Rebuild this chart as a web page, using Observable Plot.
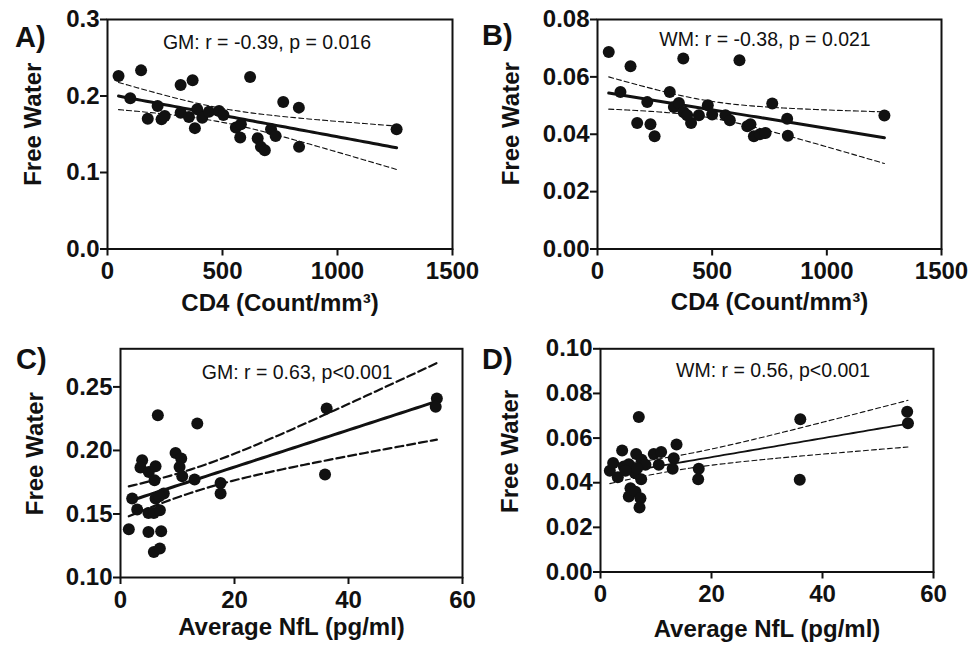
<!DOCTYPE html>
<html>
<head>
<meta charset="utf-8">
<script src="https://cdn.jsdelivr.net/npm/d3@7"></script>
<script src="https://cdn.jsdelivr.net/npm/@observablehq/plot@0.6"></script>
<style>
  html, body { margin: 0; padding: 0; background: white; }
  #root { position: relative; width: 974px; height: 646px; background: white; overflow: hidden; }
  .panel { position: absolute; }
  .letter { position: absolute; font: bold 29px 'Liberation Sans', Arial, sans-serif; line-height: 1; color: #111; }
</style>
</head>
<body>
<div id="root"></div>
<script>
// ---- Data ----
// A) GM free water vs CD4
const cd4A = [48,146,99,318,370,620,764,832,1257,218,175,235,249,318,354,380,390,412,441,485,504,558,580,577,653,667,684,711,731,833];
const fwA  = [0.226,0.2335,0.197,0.2144,0.2205,0.2248,0.1922,0.1848,0.1566,0.187,0.1704,0.1696,0.174,0.1782,0.1726,0.158,0.1826,0.1717,0.1795,0.1805,0.1752,0.1587,0.1631,0.1456,0.1448,0.1335,0.129,0.1566,0.1478,0.1335];
// B) WM free water vs CD4
const cd4B = [49,144,100,374,619,217,173,231,249,315,333,355,376,408,391,442,481,500,558,577,653,667,682,708,733,762,827,830,1251];
const fwB  = [0.0687,0.0637,0.0547,0.0664,0.0658,0.0512,0.0439,0.0435,0.0393,0.0547,0.0495,0.0509,0.0477,0.0439,0.0466,0.0466,0.0501,0.0469,0.0466,0.0449,0.0428,0.0435,0.0393,0.0400,0.0404,0.0507,0.0454,0.0395,0.0465];
// C) GM free water vs NfL
const nflC = [1.46,2.05,2.93,3.8,3.5,4.97,6.15,5.97,6.55,4.9,5.85,4.9,5.85,6.9,7.14,6.9,6.15,7.6,6.8,9.66,10.65,10.36,10.83,13.0,13.47,17.56,17.56,36.17,35.88,55.5,55.3];
const fwC  = [0.138,0.1622,0.1535,0.1923,0.1866,0.1831,0.1876,0.1766,0.2277,0.1508,0.1508,0.1359,0.120,0.1228,0.1364,0.153,0.1622,0.1661,0.164,0.198,0.1936,0.187,0.1797,0.1771,0.2212,0.1744,0.1661,0.233,0.181,0.2409,0.2343];
// D) WM free water vs NfL
const nflD = [1.68,2.28,3.12,3.9,4.2,5.1,5.4,5.1,6.3,6.9,6.43,6.2,7.2,7.03,7.33,7.4,8.1,6.6,4.5,9.6,10.93,10.5,13.7,13.2,13.0,17.7,17.6,36.0,35.9,55.26,55.4];
const fwD  = [0.0454,0.0488,0.0425,0.0544,0.0473,0.0483,0.0375,0.0338,0.036,0.0694,0.0529,0.0443,0.033,0.0289,0.0416,0.0503,0.0481,0.0465,0.0454,0.0529,0.0538,0.0481,0.0571,0.051,0.0463,0.0463,0.0416,0.0684,0.0413,0.0718,0.0666];

const annotA = "GM: r = -0.39, p = 0.016";
const annotB = "WM: r = -0.38, p = 0.021";
const annotC = "GM: r = 0.63, p<0.001";
const annotD = "WM: r = 0.56, p<0.001";

const ticksCD4 = [0, 500, 1000, 1500];
const ticksNfL = [0, 20, 40, 60];
const ticksYA = [0, 0.1, 0.2, 0.3];
const ticksYB = [0, 0.02, 0.04, 0.06, 0.08];
const ticksYC = [0.10, 0.15, 0.20, 0.25];
const ticksYD = [0, 0.02, 0.04, 0.06, 0.08, 0.10];

const yTitle = "Free Water";
const xTitleCD4 = "CD4 (Count/mm³)";
const xTitleNfL = "Average NfL (pg/ml)";

// ---- linear regression with 95% CI of the mean ----
function tq975(df) {
  const z = 1.959964;
  return z + (z**3 + z) / (4*df) + (5*z**5 + 16*z**3 + 3*z) / (96*df*df) + (3*z**7 + 19*z**5 + 17*z**3 - 15*z) / (384*df**3);
}
function fit(xs, ys) {
  const n = xs.length;
  const mx = d3.mean(xs), my = d3.mean(ys);
  let sxx = 0, sxy = 0;
  for (let i = 0; i < n; i++) { sxx += (xs[i]-mx)**2; sxy += (xs[i]-mx)*(ys[i]-my); }
  const b = sxy / sxx, a = my - b*mx;
  let sse = 0;
  for (let i = 0; i < n; i++) sse += (ys[i] - a - b*xs[i])**2;
  const s = Math.sqrt(sse / (n-2)), t = tq975(n-2);
  const [x0, x1] = d3.extent(xs);
  return d3.range(0, 61).map(i => {
    const x = x0 + (x1-x0)*i/60;
    const yh = a + b*x;
    const se = s * Math.sqrt(1/n + (x-mx)**2/sxx);
    return {x, y: yh, lo: yh - t*se, hi: yh + t*se};
  });
}

const FONT = "'Liberation Sans', Arial, Helvetica, sans-serif";

function panel(cfg) {
  const pts = cfg.xs.map((x, i) => ({x, y: cfg.ys[i]}));
  const f = fit(cfg.xs, cfg.ys);
  const plot = Plot.plot({
    width: cfg.width, height: cfg.height,
    marginLeft: cfg.ml, marginRight: cfg.mr, marginTop: cfg.mt, marginBottom: cfg.mb,
    style: {fontFamily: FONT, fontWeight: "bold", fontSize: "24px", background: "transparent", overflow: "visible", color: "#111"},
    x: {domain: cfg.xdomain},
    y: {domain: cfg.ydomain},
    marks: [
      Plot.axisX({ticks: cfg.xticks, tickFormat: d3.format("d"), tickSize: 7, tickPadding: 6, strokeWidth: 2, fontSize: 24, fontWeight: "bold", fill: "#111", label: null}),
      Plot.axisY({ticks: cfg.yticks, tickFormat: d3.format(cfg.yfmt), tickSize: 7, tickPadding: 1, strokeWidth: 2, fontSize: 24, fontWeight: "bold", fill: "#111", label: null}),
      Plot.line(f, {x: "x", y: "hi", stroke: "#111", strokeWidth: cfg.dashW, strokeDasharray: cfg.dash}),
      Plot.line(f, {x: "x", y: "lo", stroke: "#111", strokeWidth: cfg.dashW, strokeDasharray: cfg.dash}),
      Plot.line(f, {x: "x", y: "y", stroke: "#111", strokeWidth: cfg.lineW}),
      Plot.dot(pts, {x: "x", y: "y", r: 6, fill: "#111", stroke: "none"}),
      Plot.frame({stroke: "#111", strokeWidth: 2}),
      Plot.text([cfg.annot], {frameAnchor: "top", text: d => d, lineAnchor: "bottom", textAnchor: "middle", dx: cfg.adx, dy: cfg.ady, fontSize: 19.5, fontWeight: "normal", fill: "#111"}),
      Plot.text([cfg.xtitle], {frameAnchor: "bottom", text: d => d, lineAnchor: "bottom", textAnchor: "middle", dx: cfg.xtdx, dy: cfg.xtdy, fontSize: 24, fontWeight: "bold", fill: "#111"}),
      Plot.text([yTitle], {frameAnchor: "left", text: d => d, rotate: -90, lineAnchor: "bottom", textAnchor: "middle", dx: cfg.ytdx, dy: cfg.ytdy, fontSize: 24, fontWeight: "bold", fill: "#111"})
    ]
  });
  plot.classList.add("panel");
  plot.style.left = cfg.left + "px";
  plot.style.top = cfg.top + "px";
  return plot;
}

const root = document.getElementById("root");

root.appendChild(panel({
  left: 0, top: 0, width: 487, height: 320, ml: 107, mr: 35, mt: 19, mb: 71.5,
  xs: cd4A, ys: fwA, xdomain: [0, 1500], ydomain: [0, 0.3], xticks: ticksCD4, yticks: ticksYA, yfmt: ".1f",
  lineW: 3, dashW: 1.1, dash: "5,3", annot: annotA, adx: -13, ady: 29,
  xtitle: xTitleCD4, xtdx: 0, xtdy: 61.5, ytdx: -66.5, ytdy: -10
}));
root.appendChild(panel({
  left: 487, top: 0, width: 487, height: 320, ml: 110, mr: 33, mt: 19, mb: 71.5,
  xs: cd4B, ys: fwB, xdomain: [0, 1500], ydomain: [0, 0.08], xticks: ticksCD4, yticks: ticksYB, yfmt: ".2f",
  lineW: 3, dashW: 1.1, dash: "5,3", annot: annotB, adx: -4.5, ady: 26,
  xtitle: xTitleCD4, xtdx: 0, xtdy: 60.5, ytdx: -79, ytdy: -10.5
}));
root.appendChild(panel({
  left: 0, top: 320, width: 487, height: 326, ml: 120, mr: 25, mt: 28.3, mb: 69,
  xs: nflC, ys: fwC, xdomain: [0, 60], ydomain: [0.10, 0.28], xticks: ticksNfL, yticks: ticksYC, yfmt: ".2f",
  lineW: 3, dashW: 2.2, dash: "8,4", annot: annotC, adx: 5.7, ady: 30,
  xtitle: xTitleNfL, xtdx: 0, xtdy: 57, ytdx: -78, ytdy: -9.5
}));
root.appendChild(panel({
  left: 487, top: 320, width: 487, height: 326, ml: 113, mr: 41, mt: 28.3, mb: 74.5,
  xs: nflD, ys: fwD, xdomain: [0, 60], ydomain: [0, 0.10], xticks: ticksNfL, yticks: ticksYD, yfmt: ".2f",
  lineW: 1.8, dashW: 1.1, dash: "5,3", annot: annotD, adx: 6, ady: 28.4,
  xtitle: xTitleNfL, xtdx: 0, xtdy: 64.5, ytdx: -83, ytdy: -9
}));

const letters = [["A)", 15, 22.5], ["B)", 482, 20.5], ["C)", 16, 344.5], ["D)", 482, 344.5]];
for (const [t, x, y] of letters) {
  const d = document.createElement("div");
  d.className = "letter";
  d.textContent = t;
  d.style.left = x + "px";
  d.style.top = y + "px";
  root.appendChild(d);
}
</script>
</body>
</html>
